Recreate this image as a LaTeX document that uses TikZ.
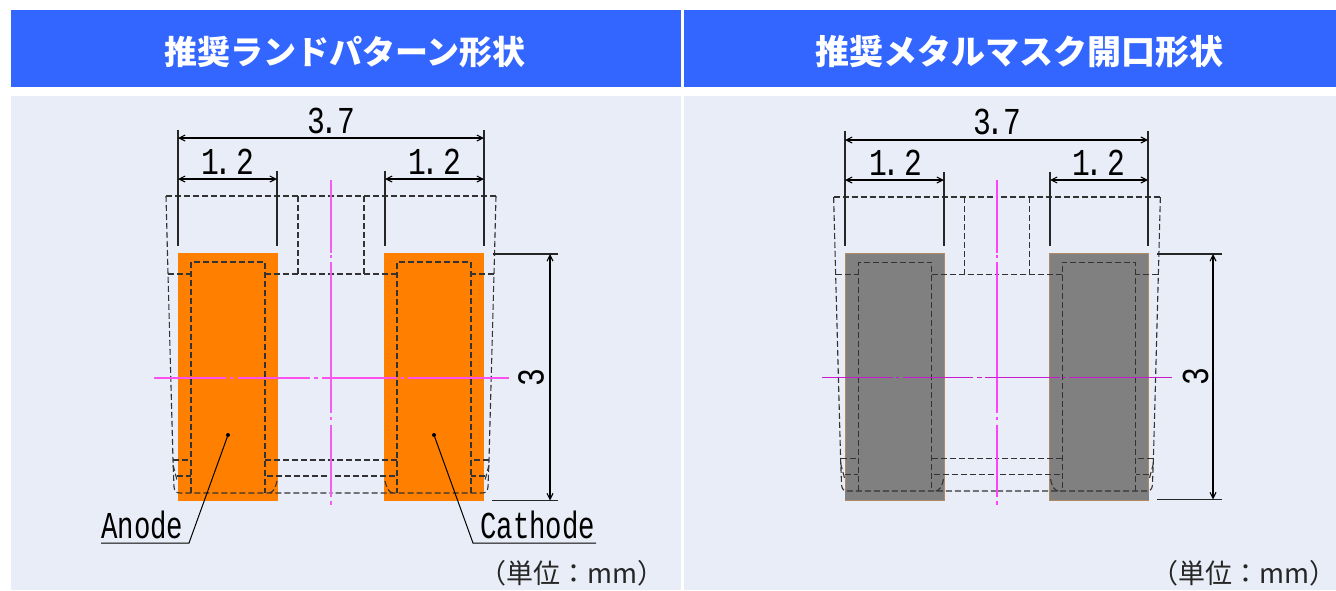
\documentclass[tikz,border=0pt]{standalone}
\usepackage{fontspec}
\usepackage{graphicx}
\usetikzlibrary{arrows.meta}
\newfontfamily\cjk{Noto Sans CJK JP}
\newfontfamily\dimmono{Liberation Mono}
\definecolor{hdrblue}{HTML}{3366FF}
\definecolor{panelbg}{HTML}{E9EDF7}
\definecolor{padorange}{HTML}{FF8000}
\definecolor{padgray}{HTML}{808080}
\definecolor{padedge}{HTML}{B08A60}
\definecolor{cvertl}{HTML}{F060F0}
\definecolor{cvertr}{HTML}{FF40FF}
\definecolor{chorzl}{HTML}{FF50F0}
\definecolor{chorzr}{HTML}{C818D0}
\newcommand{\dimtext}[1]{\scalebox{0.72}[1]{\dimmono\fontsize{38}{38}\selectfont #1}}
\newcommand{\dimdigit}[1]{\scalebox{0.78}[1]{\dimmono\fontsize{38}{38}\selectfont #1}}
\newcommand{\dimnum}[3]{\makebox[17pt]{\dimdigit{#1}}\makebox[9pt]{\dimdigit{.}}\kern#3pt\makebox[17pt]{\dimdigit{#2}}}
\tikzset{
  x=1pt,y=-1pt,
  header/.style={fill=hdrblue,draw=none},
  panel/.style={fill=panelbg,draw=none},
  title/.style={text=white,inner sep=0pt,font=\cjk\bfseries\fontsize{33}{33}\selectfont},
  title wide/.style={text=white,inner sep=0pt,font=\cjk\bfseries\fontsize{34}{34}\selectfont},
  unit/.style={text=black!85,inner sep=0pt,font=\cjk\fontsize{27}{27}\selectfont},
  dimlabel/.style={inner sep=0pt,text=black},
  hid/.style={draw=black!80,line width=1.1pt,dash pattern=on 6pt off 3pt},
  dimline/.style={draw=black,line width=1.1pt,{Straight Barb[length=6pt,width=6pt]}-{Straight Barb[length=6pt,width=6pt]}},
  extline/.style={draw=black!85,line width=1.2pt},
  leader/.style={draw=black,line width=1pt},
  cv/.style={line width=1.7pt},
  chl/.style={draw=chorzl,line width=1.4pt},
  chr/.style={draw=chorzr,line width=1pt},
  lead dot/.style={circle,fill=black,inner sep=0pt,minimum size=4pt}
}
\newcommand{\halfoutline}{%
  \draw[hid] (-165,0) -- (0,0);
  \draw[hid] (-33,0) -- (-33,78);
  \draw[hid] (-165,0) -- (-163,78) -- (-158,264) -- (-157,291) .. controls (-156.5,295) and (-155,297) .. (-151,297) -- (0,297);
  \draw[hid] (-163,78) -- (-140,78);
  \draw[hid] (-66,78) -- (0,78);
  \draw[hid] (-140,297) -- (-140,66) -- (-66,66) -- (-66,297);
  \draw[hid] (-158,264) -- (-140,264);
  \draw[hid] (-66,264) -- (0,264);
  \draw[hid] (-154,280) -- (-140,280);
  \draw[hid] (-64,280) -- (0,280);
  \draw[hid] (-158,269) -- (-154,284);
  \draw[hid] (-54,285) .. controls (-56,293) and (-58,297) .. (-63,297);
}
\newcommand{\outlineat}[3]{%
  \begin{scope}[shift={(#1,#2)},xscale=#3,yscale=#3]
    \halfoutline
    \begin{scope}[xscale=-1]\halfoutline\end{scope}
  \end{scope}}
\newcommand{\centerv}[2]{%
  \foreach \ya/\yb in {180/253,255/258,262/413,417/420,425/497,501/505}
    \draw[cv,draw=#2] (#1,\ya) -- (#1,\yb);}
\begin{document}
\begin{tikzpicture}
\useasboundingbox (0,0) rectangle (1336,590);
\fill[white] (0,0) rectangle (1336,590);
% headers and panels
\path[header] (11,10) rectangle (681,87);
\path[header] (684,10) rectangle (1336,87);
\path[panel] (11,96) rectangle (681,590);
\path[panel] (684,96) rectangle (1336,590);
\node[title] (t1) at (345,52) {推奨ランドパターン形状};
\node[title wide] (t2) at (1019,52) {推奨メタルマスク開口形状};
% ---- left drawing
\fill[padorange] (178,253) rectangle (278,501);
\fill[padorange] (384,253) rectangle (484,501);
\outlineat{331}{196}{1}
\centerv{331}{cvertl}
\foreach \xa/\xb in {154/226,230/233,238/310,314/318,322/397,401/404,408/509}
  \draw[chl] (\xa,378) -- (\xb,378);
\coordinate (la) at (178,138); \coordinate (lb) at (484,138);
\coordinate (lc) at (178,179); \coordinate (ld) at (277,179);
\coordinate (le) at (385,179); \coordinate (lf) at (484,179);
\draw[extline] (178,130) -- (178,246);
\draw[extline] (484,130) -- (484,246);
\draw[extline] (277,171) -- (277,246);
\draw[extline] (385,171) -- (385,246);
\draw[dimline] (la) -- (lb);
\draw[dimline] (lc) -- (ld);
\draw[dimline] (le) -- (lf);
\coordinate (lg) at (550,254); \coordinate (lh) at (550,500.5);
\draw[extline] (493,254) -- (558,254);
\draw[extline] (492,500.5) -- (558,500.5);
\draw[dimline] (lg) -- (lh);
\node[dimlabel] (l37) at (331,121) {\dimnum{3}{7}{4}};
\node[dimlabel] (l12a) at (228,162) {\dimnum{1}{2}{8.5}};
\node[dimlabel] (l12b) at (435,162) {\dimnum{1}{2}{8.5}};
\node[dimlabel,rotate=90] (l3) at (531,377.5) {\dimdigit{3}};
\node[dimlabel,anchor=base west] (anode) at (101,538) {\dimtext{Anode}};
\node[dimlabel,anchor=base west] (cathode) at (480,538) {\dimtext{Cathode}};
\node[lead dot] (adot) at (228,435) {};
\node[lead dot] (cdot) at (434,435) {};
\coordinate (au0) at (101,543); \coordinate (au1) at (189,543);
\coordinate (cu0) at (473,543); \coordinate (cu1) at (596,543);
\draw[leader] (au0) -- (au1) -- (adot.center);
\draw[leader] (cu1) -- (cu0) -- (cdot.center);
\node[unit] (u1) at (571.5,573) {（単位：mm）};
% ---- right drawing
\filldraw[fill=padgray,draw=padedge,line width=1pt] (845,253.5) rectangle (944,500);
\filldraw[fill=padgray,draw=padedge,line width=1pt] (1049.5,253.5) rectangle (1148.5,500);
\fill[padgray] (845,490) rectangle (944,500);
\fill[padgray] (1049.5,490) rectangle (1148.5,500);
\outlineat{997}{197}{.99}
\centerv{997}{cvertr}
\foreach \xa/\xb in {822/893,896/899,903/973,977/982,985/1060,1063/1066,1069/1172}
  \draw[chr] (\xa,377) -- (\xb,377);
\coordinate (ra) at (845,140); \coordinate (rb) at (1148,140);
\coordinate (rc) at (845,180); \coordinate (rd) at (944,180);
\coordinate (re) at (1050,180); \coordinate (rf) at (1148,180);
\draw[extline] (845,131) -- (845,246);
\draw[extline] (1148,131) -- (1148,246);
\draw[extline] (944,172) -- (944,246);
\draw[extline] (1050,172) -- (1050,246);
\draw[dimline] (ra) -- (rb);
\draw[dimline] (rc) -- (rd);
\draw[dimline] (re) -- (rf);
\coordinate (rg) at (1213,254); \coordinate (rh) at (1213,499.5);
\draw[extline] (1157,254) -- (1222,254);
\draw[extline] (1157,499.5) -- (1222,499.5);
\draw[dimline] (rg) -- (rh);
\node[dimlabel] (r37) at (997,122) {\dimnum{3}{7}{4}};
\node[dimlabel] (r12a) at (896,163) {\dimnum{1}{2}{8.5}};
\node[dimlabel] (r12b) at (1099,163) {\dimnum{1}{2}{8.5}};
\node[dimlabel,rotate=90] (r3) at (1195.5,377) {\dimdigit{3}};
\node[unit] (u2) at (1244,573) {（単位：mm）};
\end{tikzpicture}
\end{document}
